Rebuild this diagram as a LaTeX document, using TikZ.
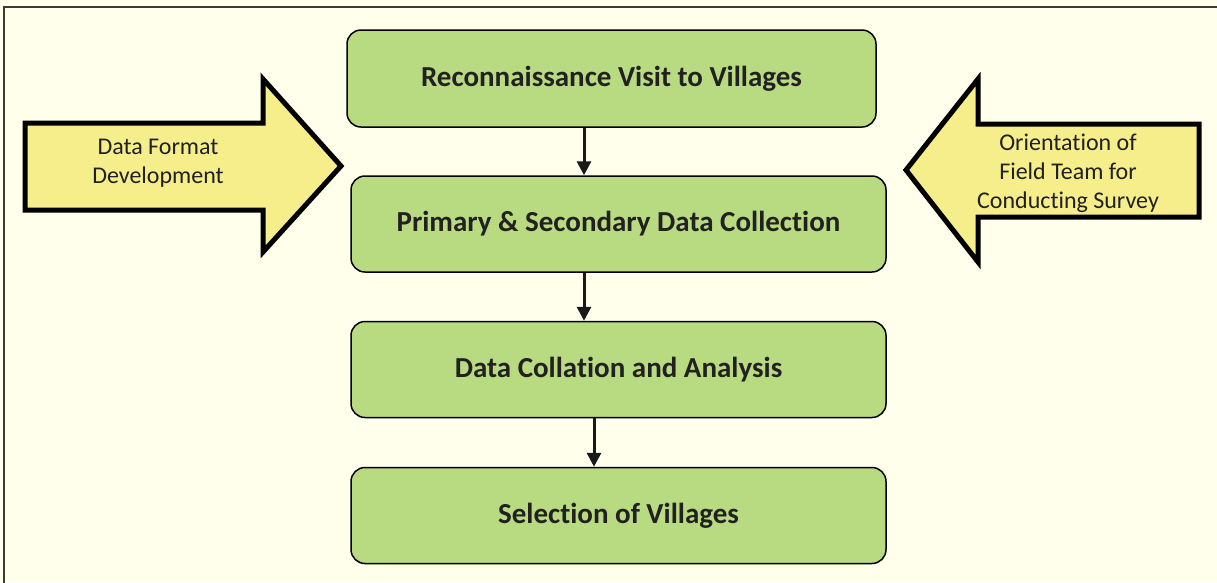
\documentclass[tikz,border=0pt]{standalone}
\usepackage{fontspec}
\setmainfont[Ligatures={NoCommon,NoRare}]{Carlito}
\usetikzlibrary{arrows.meta}
\definecolor{bgc}{HTML}{FFFFEC}
\definecolor{boxg}{HTML}{B8DB81}
\definecolor{arry}{HTML}{F5EE8A}
\definecolor{txt}{HTML}{222020}
\definecolor{frame}{HTML}{3A3A34}
\tikzset{
  box/.style={draw=black, line width=1.5pt, fill=boxg, rounded corners=14pt,
    minimum width=535pt, minimum height=96pt, inner sep=0pt,
    font=\fontsize{29}{35}\selectfont\bfseries, text=txt},
  fat/.style={draw=black, line width=5pt, fill=arry, miter limit=10},
  lbl/.style={align=center, font=\fontsize{24}{29}\selectfont, text=txt, inner sep=0pt},
  conn/.style={draw=black!90, line width=3pt, -{Triangle[width=14pt,length=14pt]}}
}
\begin{document}
\begin{tikzpicture}[x=1pt,y=-1pt]
\useasboundingbox (0,0) rectangle (1217,582);
\fill[bgc] (0,0) rectangle (1217,582);
% frame (top and left only visible)
\draw[frame, line width=2pt] (4,590) -- (4,7) -- (1225,7);

% boxes
\node[box, minimum width=529pt, minimum height=97pt] (b1) at (611.5,78.5) {Reconnaissance Visit to Villages};
\node[box] (b2) at (618.5,224) {Primary \& Secondary Data Collection};
\node[box] (b3) at (618.5,369.5) {Data Collation and Analysis};
\node[box] (b4) at (618.5,515.5) {Selection of Villages};

% connectors
\draw[conn] (584,0 |- b1.south) -- (584,0 |- b2.north);
\draw[conn] (584,0 |- b2.south) -- (584,0 |- b3.north);
\draw[conn] (594,0 |- b3.south) -- (594,0 |- b4.north);

% block arrows
\draw[fat] (25,123) -- (263,123) -- (263,79) -- (341,166) -- (263,252) -- (263,210) -- (25,210) -- cycle;
\node[lbl] (la) at (158,163) {Data Format\\Development};

\draw[fat] (1199,124) -- (978,124) -- (978,79) -- (906,170) -- (978,262) -- (978,217) -- (1199,217) -- cycle;
\node[lbl] (ra) at (1068,173) {Orientation of\\Field Team for\\Conducting Survey};
\end{tikzpicture}
\end{document}
